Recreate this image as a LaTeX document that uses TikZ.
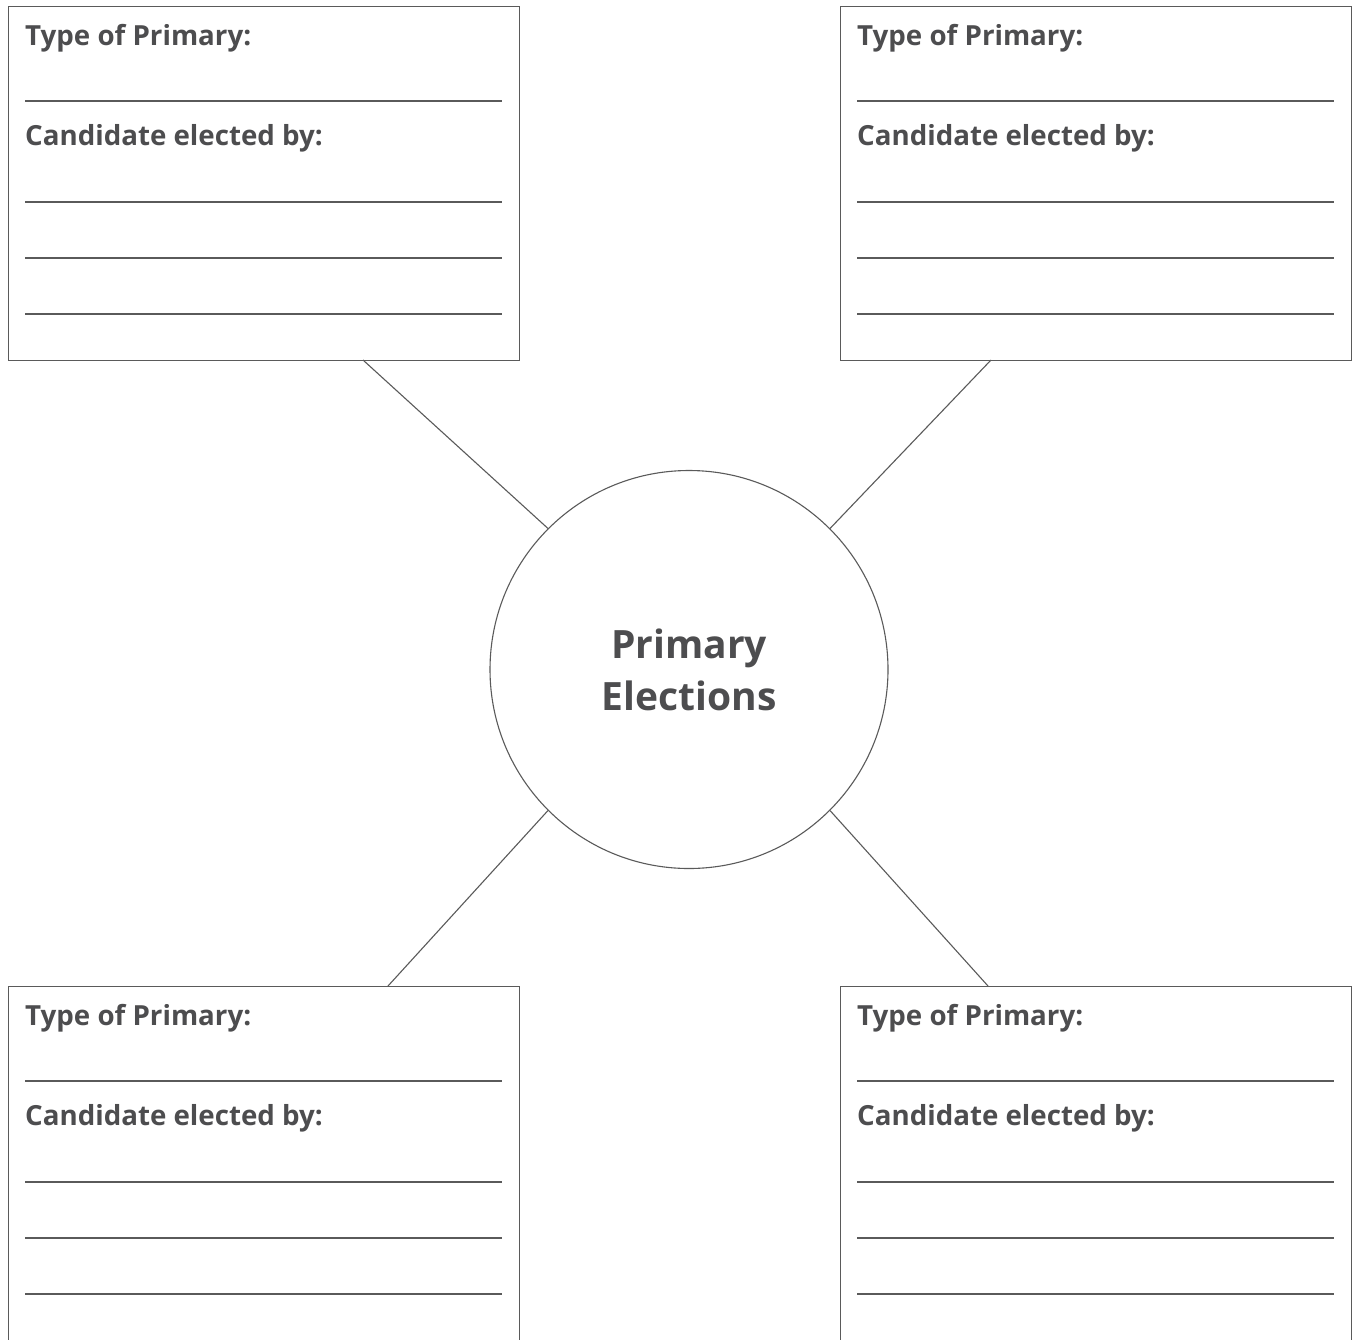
\documentclass[tikz,border=0pt]{standalone}
\usepackage{fontspec}
\setmainfont{Open Sans}
\definecolor{ink}{HTML}{4D4D4F}
\definecolor{rule}{HTML}{5A5A5A}
\begin{document}
\begin{tikzpicture}[x=1pt,y=-1pt,
  box/.style={draw=rule, line width=1.4pt, minimum width=511pt, minimum height=354pt,
    inner sep=0pt, anchor=north west},
  bottombox/.style={box, minimum height=420pt},
  label/.style={anchor=base west, inner sep=0pt, text=ink,
    font=\fontsize{27.7}{32}\selectfont\bfseries},
  writeline/.style={draw=rule, line width=1.8pt},
  hub/.style={circle, draw=rule, line width=1.1pt, minimum size=398pt, inner sep=0pt,
    align=center, text=ink, font=\fontsize{39}{52}\selectfont\bfseries},
  spoke/.style={draw=rule, line width=1.1pt}]
\clip (0,0) rectangle (1354,1339);
\fill[white] (0,0) rectangle (1354,1339);

% four answer boxes
\foreach \bx/\by/\nm/\st in {8/6/tl/box, 840/6/tr/box, 8/986/bl/bottombox, 840/986/br/bottombox}{
  \begin{scope}[shift={(\bx,\by)}]
    \node[\st] (\nm) at (0,0) {};
    \node[label] (\nm-type) at (17,39) {Type of Primary:};
    \node[label] (\nm-cand) at (17,139) {Candidate elected by:};
    \foreach \ly in {95,196,252,308}{
      \draw[writeline] (17,\ly) -- (494,\ly);
    }
  \end{scope}
}

% central topic
\node[hub] (c) at (689,669.5) {Primary\\Elections};

% spoke attachment points on the boxes
\coordinate (ktl) at (363,360);
\coordinate (ktr) at (991,360);
\coordinate (kbl) at (388,986);
\coordinate (kbr) at (988,986);

\draw[spoke] (ktl) -- (c.135);
\draw[spoke] (ktr) -- (c.45);
\draw[spoke] (kbl) -- (c.225);
\draw[spoke] (kbr) -- (c.315);
\end{tikzpicture}
\end{document}
